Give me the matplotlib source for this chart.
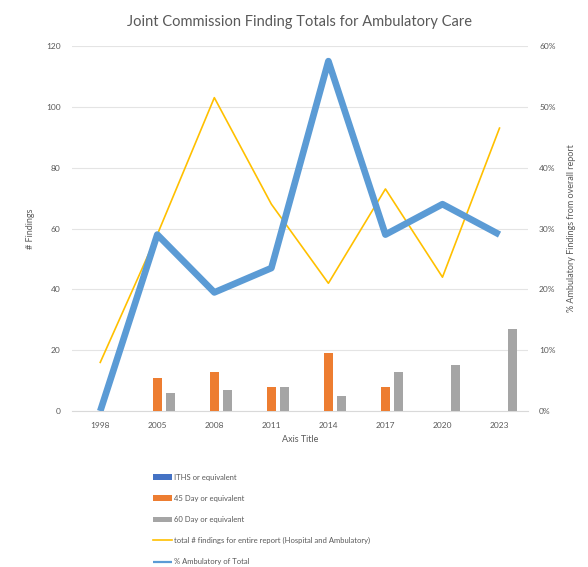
import matplotlib.pyplot as plt
import numpy as np

plt.rcParams['font.family'] = ['Lato', 'DejaVu Sans']

years = ['1998', '2005', '2008', '2011', '2014', '2017', '2020', '2023']
iths = [0, 0, 0, 0, 0, 0, 0, 0]
day45 = [0, 11, 13, 8, 19, 8, 0, 0]
day60 = [0, 6, 7, 8, 5, 13, 15, 27]
total = [16, 58, 103, 68, 42, 73, 44, 93]
pct_amb = [0, 29, 19.5, 23.5, 57.5, 29, 34, 29]

fig = plt.figure(figsize=(5.88, 5.67), dpi=100)
ax = fig.add_axes([0.122, 0.275, 0.776, 0.644])
ax2 = ax.twinx()

x = np.arange(len(years))
w = 0.16
ax.bar(x - 0.23, iths, w, color='#4472C4', label='ITHS or equivalent', zorder=3)
ax.bar(x, day45, w, color='#ED7D31', label='45 Day or equivalent', zorder=3)
ax.bar(x + 0.23, day60, w, color='#A5A5A5', label='60 Day or equivalent', zorder=3)
ax.plot(x, total, color='#FFC000', linewidth=1.2,
        label='total # findings for entire report (Hospital and Ambulatory)', zorder=4)
ax2.plot(x, pct_amb, color='#5B9BD5', linewidth=4.8, solid_capstyle='butt',
         label='% Ambulatory of Total', zorder=5)

ax.set_xlim(-0.5, len(years) - 0.5)
ax.set_ylim(0, 120)
ax.set_yticks(range(0, 121, 20))
ax2.set_ylim(0, 60)
ax2.set_yticks(range(0, 61, 10))
ax2.set_yticklabels([f'{v}%' for v in range(0, 61, 10)])
ax.set_xticks(x)
ax.set_xticklabels(years)

ax.grid(True, axis='y', color='#e4e4e4', linewidth=0.8, zorder=0)
for a in (ax, ax2):
    for s in a.spines.values():
        s.set_visible(False)
    a.tick_params(length=0, labelsize=6, colors='#595959', pad=8)
ax.spines['bottom'].set_visible(True)
ax.spines['bottom'].set_color('#d9d9d9')

ax.set_xlabel('Axis Title', fontsize=6.5, color='#595959', labelpad=4)
ax.set_ylabel('# Findings', fontsize=6.5, color='#595959', labelpad=8)
ax2.set_ylabel('% Ambulatory Findings from overall report', fontsize=6.5,
               color='#595959', labelpad=8, rotation=90)
ax.set_title('Joint Commission Finding Totals for Ambulatory Care',
             fontsize=10.5, color='#595959', pad=14)

h1, l1 = ax.get_legend_handles_labels()
h2, l2 = ax2.get_legend_handles_labels()
order = [1, 2, 3, 0]
handles = [h1[i] for i in order] + h2
labels = [l1[i] for i in order] + l2
leg = fig.legend(handles, labels, loc='upper left', bbox_to_anchor=(0.255, 0.17),
                 frameon=False, fontsize=5.5, labelspacing=1.85, handlelength=2.5,
                 handletextpad=0.2, borderaxespad=0)
for t in leg.get_texts():
    t.set_color('#595959')
leg.get_lines()[-1].set_linewidth(1.6)

fig.savefig('out.png', dpi=100)
